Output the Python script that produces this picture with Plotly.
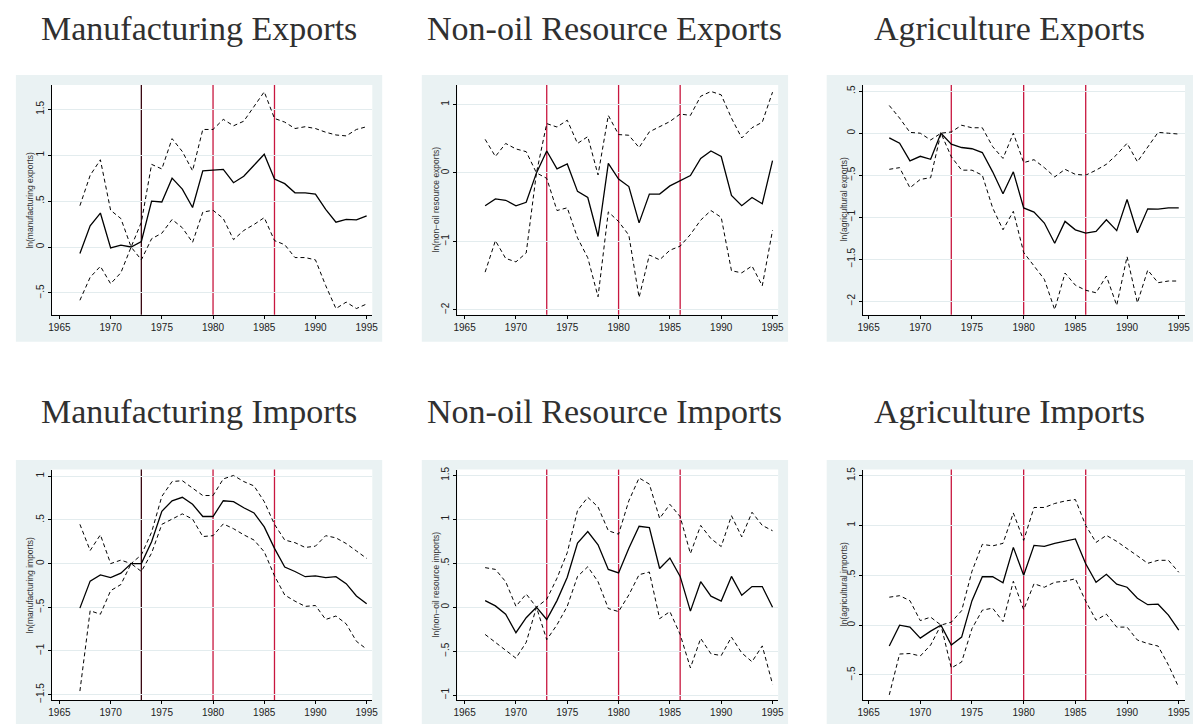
import plotly.graph_objects as go

# ---------------------------------------------------------------
# Data: point estimates with upper / lower confidence bounds
# (1972 is the normalisation year)
# ---------------------------------------------------------------
years = list(range(1967, 1996))
break_years = [1973, 1980, 1986]
x_ticks = [1965, 1970, 1975, 1980, 1985, 1990, 1995]

mfg_exp_mean = [-0.07, 0.23, 0.37, -0.01, 0.02, 0.0, 0.06, 0.50, 0.49, 0.75, 0.63, 0.43, 0.83, 0.84, 0.845,
                0.70, 0.77, 0.89, 1.01, 0.74, 0.69, 0.59, 0.59, 0.575, 0.41, 0.27, 0.30, 0.295, 0.34]
mfg_exp_upper = [0.45, 0.78, 0.95, 0.40, 0.31, 0.0, 0.27, 0.90, 0.85, 1.18, 1.04, 0.83, 1.28, 1.28, 1.39,
                 1.32, 1.37, 1.53, 1.69, 1.40, 1.36, 1.29, 1.31, 1.29, 1.25, 1.22, 1.21, 1.28, 1.31]
mfg_exp_lower = [-0.58, -0.33, -0.21, -0.40, -0.28, 0.0, -0.14, 0.09, 0.15, 0.30, 0.21, 0.05, 0.38, 0.40, 0.31,
                 0.08, 0.18, 0.245, 0.32, 0.07, 0.025, -0.115, -0.115, -0.14, -0.42, -0.67, -0.60, -0.67, -0.62]

res_exp_mean = [-0.48, -0.38, -0.40, -0.48, -0.43, 0.0, 0.32, 0.06, 0.13, -0.27, -0.36, -0.93, 0.14, -0.09, -0.20,
                -0.73, -0.31, -0.31, -0.19, -0.11, -0.04, 0.21, 0.32, 0.24, -0.33, -0.48, -0.36, -0.45, 0.18]
res_exp_upper = [0.49, 0.24, 0.43, 0.35, 0.31, 0.0, 0.72, 0.67, 0.77, 0.43, 0.53, -0.03, 0.84, 0.56, 0.55,
                 0.37, 0.60, 0.67, 0.75, 0.86, 0.84, 1.12, 1.19, 1.14, 0.80, 0.51, 0.66, 0.74, 1.18]
res_exp_lower = [-1.45, -0.99, -1.25, -1.30, -1.17, 0.0, -0.08, -0.55, -0.51, -0.95, -1.24, -1.81, -0.57, -0.71, -0.91,
                 -1.82, -1.20, -1.27, -1.13, -1.07, -0.90, -0.69, -0.55, -0.65, -1.43, -1.46, -1.36, -1.65, -0.84]

agr_exp_mean = [-0.055, -0.12, -0.33, -0.275, -0.31, 0.0, -0.13, -0.17, -0.185, -0.23, -0.46, -0.72, -0.46, -0.89, -0.94,
                -1.07, -1.31, -1.05, -1.15, -1.19, -1.17, -1.03, -1.16, -0.79, -1.185, -0.90, -0.905, -0.89, -0.89]
agr_exp_upper = [0.33, 0.18, 0.01, 0.0, -0.08, 0.0, 0.015, 0.095, 0.065, 0.065, -0.16, -0.30, 0.0, -0.35, -0.315,
                 -0.41, -0.52, -0.43, -0.49, -0.50, -0.44, -0.37, -0.255, -0.12, -0.34, -0.17, 0.01, 0.0, -0.01]
agr_exp_lower = [-0.43, -0.41, -0.65, -0.55, -0.53, 0.0, -0.28, -0.44, -0.44, -0.50, -0.89, -1.15, -0.93, -1.42, -1.58,
                 -1.74, -2.10, -1.665, -1.81, -1.87, -1.90, -1.70, -2.05, -1.47, -2.02, -1.63, -1.78, -1.76, -1.76]

mfg_imp_mean = [-0.51, -0.20, -0.13, -0.16, -0.11, 0.0, 0.0, 0.25, 0.60, 0.72, 0.76, 0.68, 0.54, 0.54, 0.72,
                0.71, 0.64, 0.58, 0.42, 0.175, -0.04, -0.09, -0.15, -0.14, -0.16, -0.15, -0.23, -0.37, -0.46]
mfg_imp_upper = [0.45, 0.15, 0.33, 0.0, 0.04, 0.0, 0.10, 0.36, 0.77, 0.94, 0.95, 0.87, 0.78, 0.78, 0.97,
                 1.01, 0.94, 0.89, 0.71, 0.45, 0.27, 0.24, 0.185, 0.20, 0.32, 0.295, 0.23, 0.145, 0.06]
mfg_imp_lower = [-1.46, -0.54, -0.58, -0.31, -0.24, 0.0, -0.09, 0.12, 0.45, 0.51, 0.57, 0.51, 0.31, 0.32, 0.455,
                 0.40, 0.33, 0.27, 0.135, -0.14, -0.36, -0.43, -0.49, -0.48, -0.64, -0.60, -0.69, -0.89, -0.98]

res_imp_mean = [0.075, 0.015, -0.08, -0.29, -0.12, 0.0, -0.14, 0.075, 0.34, 0.73, 0.86, 0.71, 0.43, 0.39, 0.67,
                0.92, 0.905, 0.44, 0.56, 0.35, -0.045, 0.29, 0.125, 0.07, 0.35, 0.135, 0.235, 0.235, 0.0]
res_imp_upper = [0.45, 0.43, 0.29, 0.01, 0.15, 0.0, 0.09, 0.33, 0.62, 1.10, 1.25, 1.14, 0.87, 0.83, 1.21,
                 1.47, 1.40, 1.01, 1.17, 1.03, 0.61, 0.93, 0.78, 0.69, 1.04, 0.80, 1.08, 0.93, 0.87]
res_imp_lower = [-0.31, -0.40, -0.50, -0.58, -0.40, 0.0, -0.37, -0.20, 0.01, 0.35, 0.46, 0.29, -0.015, -0.05, 0.14,
                 0.37, 0.40, -0.13, -0.05, -0.31, -0.69, -0.355, -0.53, -0.55, -0.34, -0.52, -0.62, -0.44, -0.875]

agr_imp_mean = [-0.21, 0.0, -0.02, -0.13, -0.06, 0.0, -0.20, -0.12, 0.245, 0.485, 0.485, 0.425, 0.78, 0.50, 0.80,
                0.79, 0.82, 0.84, 0.865, 0.615, 0.43, 0.51, 0.41, 0.38, 0.27, 0.205, 0.21, 0.10, -0.05]
agr_imp_upper = [0.28, 0.295, 0.245, 0.045, 0.08, 0.0, 0.03, 0.145, 0.54, 0.81, 0.795, 0.82, 1.125, 0.85, 1.18,
                 1.18, 1.22, 1.245, 1.26, 1.0, 0.83, 0.90, 0.84, 0.77, 0.695, 0.62, 0.65, 0.65, 0.53]
agr_imp_lower = [-0.70, -0.29, -0.285, -0.31, -0.20, 0.0, -0.43, -0.37, -0.035, 0.15, 0.17, 0.035, 0.44, 0.155, 0.415,
                 0.38, 0.43, 0.44, 0.465, 0.24, 0.05, 0.11, -0.02, -0.02, -0.15, -0.185, -0.21, -0.40, -0.625]

titles = ["Manufacturing Exports", "Non-oil Resource Exports", "Agriculture Exports",
          "Manufacturing Imports", "Non-oil Resource Imports", "Agriculture Imports"]
y_titles = ["ln(manufacturing exports)", "ln(non\u2212oil resource exports)", "ln(agricultural exports)",
            "ln(manufacturing imports)", "ln(non\u2212oil resource imports)", "ln(agricultural imports)"]

y_tick_vals = [
    [-0.5, 0, 0.5, 1, 1.5],
    [-2, -1, 0, 1],
    [-2, -1.5, -1, -0.5, 0, 0.5],
    [-1.5, -1, -0.5, 0, 0.5, 1],
    [-1, -0.5, 0, 0.5, 1, 1.5],
    [-0.5, 0, 0.5, 1, 1.5],
]
y_tick_text = [
    ["\u2212.5", "0", ".5", "1", "1.5"],
    ["\u22122", "\u22121", "0", "1"],
    ["\u22122", "\u22121.5", "\u22121", "\u2212.5", "0", ".5"],
    ["\u22121.5", "\u22121", "\u2212.5", "0", ".5", "1"],
    ["\u22121", "\u2212.5", "0", ".5", "1", "1.5"],
    ["\u2212.5", "0", ".5", "1", "1.5"],
]

series = [
    (mfg_exp_mean, mfg_exp_upper, mfg_exp_lower),
    (res_exp_mean, res_exp_upper, res_exp_lower),
    (agr_exp_mean, agr_exp_upper, agr_exp_lower),
    (mfg_imp_mean, mfg_imp_upper, mfg_imp_lower),
    (res_imp_mean, res_imp_upper, res_imp_lower),
    (agr_imp_mean, agr_imp_upper, agr_imp_lower),
]

# ---------------------------------------------------------------
# Layout geometry (pixels of a 1197 x 724 canvas)
# ---------------------------------------------------------------
W, H = 1197, 724
col_plot_x = [(46, 370), (456, 780), (866, 1191)]
col_box_x = [(10, 380), (420, 790), (829, 1199)]
row_plot_y = [(82.7, 314.3), (470.5, 702.7)]
row_box_y = [(72.7, 341.7), (460.7, 730)]
row_title_y = [26, 412]
y_title_px = [24, 434, 846]

x_ranges = [[1964.23, 1995.55], [1964.30, 1995.55], [1964.49, 1995.61]]
y_ranges = [[-0.737, 1.764], [-2.072, 1.284], [-2.161, 0.574],
            [-1.561, 1.077], [-1.054, 1.565], [-0.75, 1.56]]

RED = "#C8173F"
DARK = "#3A0812"
BOX_BG = "#EAF2F3"
GRID = "#E3ECEE"
TICK_FONT = dict(family="Liberation Sans, Arial, sans-serif", size=10, color="#222222")

fig = go.Figure()
shapes = []
annotations = []


def px_x(v):
    return v / W


def px_y(v):
    return 1 - v / H


for i in range(6):
    r, c = divmod(i, 3)
    n = i + 1
    xa = "x" if n == 1 else f"x{n}"
    ya = "y" if n == 1 else f"y{n}"
    mean, upper, lower = series[i]

    # graph-region background, then the white plot region on top of it
    shapes.append(dict(type="rect", xref="paper", yref="paper", layer="below",
                       x0=px_x(col_box_x[c][0]), x1=px_x(col_box_x[c][1]),
                       y0=px_y(row_box_y[r][1]), y1=px_y(row_box_y[r][0]),
                       fillcolor=BOX_BG, line=dict(width=0)))
    shapes.append(dict(type="rect", xref="paper", yref="paper", layer="below",
                       x0=px_x(col_plot_x[c][0]), x1=px_x(col_plot_x[c][1]),
                       y0=px_y(row_plot_y[r][1]), y1=px_y(row_plot_y[r][0]),
                       fillcolor="white", line=dict(width=0)))

    # break-year markers
    for k, yr in enumerate(break_years):
        color = DARK if (c == 0 and k == 0) else RED
        shapes.append(dict(type="line", xref=xa, yref=f"{ya} domain", layer="below",
                           x0=yr, x1=yr, y0=0, y1=1, line=dict(color=color, width=1.3)))

    for vals, dash, width in ((upper, "4px,3px", 1.0), (lower, "4px,3px", 1.0), (mean, "solid", 1.3)):
        fig.add_trace(go.Scatter(x=years, y=vals, mode="lines", xaxis=xa, yaxis=ya,
                                 line=dict(color="black", width=width, dash=dash),
                                 showlegend=False, hoverinfo="skip"))

    xkey = "xaxis" if n == 1 else f"xaxis{n}"
    ykey = "yaxis" if n == 1 else f"yaxis{n}"
    fig.update_layout({
        xkey: dict(domain=[px_x(col_plot_x[c][0]), px_x(col_plot_x[c][1])], anchor=ya,
                   range=x_ranges[c], tickvals=x_ticks, ticks="outside", ticklen=3,
                   tickcolor="black", showline=True, linecolor="black", linewidth=1,
                   showgrid=False, zeroline=False, tickfont=TICK_FONT),
        ykey: dict(domain=[px_y(row_plot_y[r][1]), px_y(row_plot_y[r][0])], anchor=xa,
                   range=y_ranges[i], tickvals=y_tick_vals[i], ticktext=y_tick_text[i],
                   tickangle=-90, ticks="outside", ticklen=3, tickcolor="black",
                   showline=True, linecolor="black", linewidth=1,
                   showgrid=True, gridcolor=GRID, gridwidth=1, zeroline=False,
                   tickfont=TICK_FONT),
    })

    # panel title
    annotations.append(dict(text=titles[i], xref="paper", yref="paper",
                            x=px_x((col_box_x[c][0] + col_box_x[c][1]) / 2), y=px_y(row_title_y[r]),
                            xanchor="center", yanchor="middle", showarrow=False,
                            font=dict(family="Liberation Serif, Times New Roman, serif",
                                      size=34, color="#303030")))
    # y-axis title
    annotations.append(dict(text=y_titles[i], xref="paper", yref="paper",
                            x=px_x(y_title_px[c]), y=px_y((row_plot_y[r][0] + row_plot_y[r][1]) / 2),
                            xanchor="center", yanchor="middle", textangle=-90, showarrow=False,
                            font=dict(family="Liberation Sans, Arial, sans-serif", size=8.5,
                                      color="#333333")))

fig.update_layout(width=W, height=H, margin=dict(l=0, r=0, t=0, b=0),
                  paper_bgcolor="white", plot_bgcolor="white",
                  shapes=shapes, annotations=annotations, showlegend=False)

fig.write_html("out.html")
